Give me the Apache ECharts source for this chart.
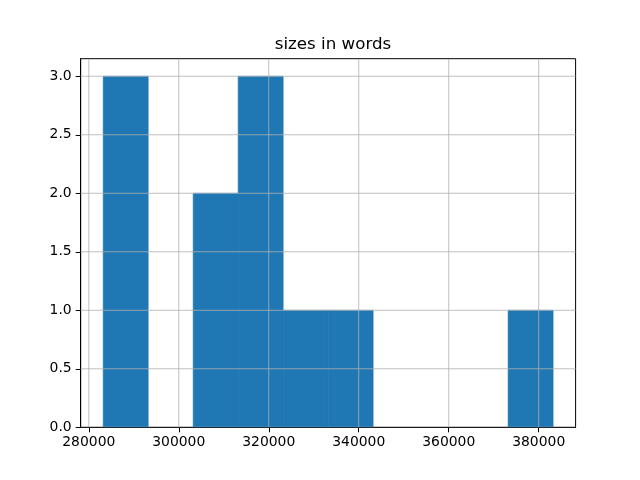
<!DOCTYPE html>
<html>
<head>
<meta charset="utf-8">
<script src="https://cdn.jsdelivr.net/npm/echarts@6/dist/echarts.min.js"></script>
<style>html,body{margin:0;padding:0;background:#fff}#c{width:640px;height:480px}</style>
</head>
<body>
<div id="c"></div>
<script>
// Histogram bins (left edges), bin width and counts
const binStarts = [283200, 293200, 303200, 313200, 323200, 333200, 343200, 353200, 363200, 373200];
const binWidth = 10000;
const counts = [3, 0, 2, 3, 1, 1, 0, 0, 0, 1];
const xTicks = [280000, 300000, 320000, 340000, 360000, 380000];
const yTicks = [0, 0.5, 1.0, 1.5, 2.0, 2.5, 3.0];
const titleText = 'sizes in words';

const FONT = 'DejaVu Sans';
const chart = echarts.init(document.getElementById('c'), null, {renderer: 'canvas'});

const barData = binStarts.map((s, i) => [s, s + binWidth, counts[i]]);

chart.setOption({
  animation: false,
  backgroundColor: '#fff',
  title: {
    text: titleText,
    left: 328, top: 31, textAlign: 'center',
    textStyle: {fontFamily: FONT, fontSize: 16.7, fontWeight: 'normal', color: '#000'}
  },
  grid: {left: 80.7, right: 64.4, top: 58.7, bottom: 52.7, show: true, borderColor: '#000', borderWidth: 1, backgroundColor: 'transparent'},
  xAxis: {
    type: 'value', min: 278200, max: 388200,
    axisLine: {show: true, onZero: false, lineStyle: {color: '#000', width: 1}},
    axisTick: {show: true, length: 5, customValues: xTicks, lineStyle: {color: '#000', width: 1}},
    axisLabel: {customValues: xTicks, margin: 8, color: '#000', fontFamily: FONT, fontSize: 13.9, formatter: v => String(v)},
    splitLine: {show: false}
  },
  yAxis: {
    type: 'value', min: 0, max: 3.15,
    axisLine: {show: true, lineStyle: {color: '#000', width: 1}},
    axisTick: {show: true, length: 5, customValues: yTicks, lineStyle: {color: '#000', width: 1}},
    axisLabel: {customValues: yTicks, margin: 9, color: '#000', fontFamily: FONT, fontSize: 13.9, formatter: v => v.toFixed(1)},
    splitLine: {show: false}
  },
  series: [
    {
      type: 'custom', z: 2, clip: true,
      data: barData,
      encode: {x: [0, 1], y: 2},
      renderItem: (params, api) => {
        if (!api.value(2)) return null;
        const a = api.coord([api.value(0), 0]);
        const b = api.coord([api.value(1), api.value(2)]);
        return {type: 'rect', shape: {x: a[0], y: b[1], width: b[0] - a[0], height: a[1] - b[1]}, style: {fill: '#1f77b4', stroke: '#1f77b4', lineWidth: 0.6}};
      }
    },
    {
      type: 'custom', z: 3, clip: true, silent: true,
      data: xTicks.map(v => [v, 0]),
      encode: {x: 0, y: 1},
      renderItem: (params, api) => {
        const cs = params.coordSys;
        const x = api.coord([api.value(0), 0])[0];
        return {type: 'line', shape: {x1: x, y1: cs.y, x2: x, y2: cs.y + cs.height}, style: {stroke: '#b0b0b0', lineWidth: 0.8}};
      }
    },
    {
      type: 'custom', z: 3, clip: true, silent: true,
      data: yTicks.map(v => [280000, v]),
      encode: {x: 0, y: 1},
      renderItem: (params, api) => {
        const cs = params.coordSys;
        const y = api.coord([280000, api.value(1)])[1];
        return {type: 'line', shape: {x1: cs.x, y1: y, x2: cs.x + cs.width, y2: y}, style: {stroke: '#b0b0b0', lineWidth: 0.8}};
      }
    }
  ]
});
</script>
</body>
</html>
